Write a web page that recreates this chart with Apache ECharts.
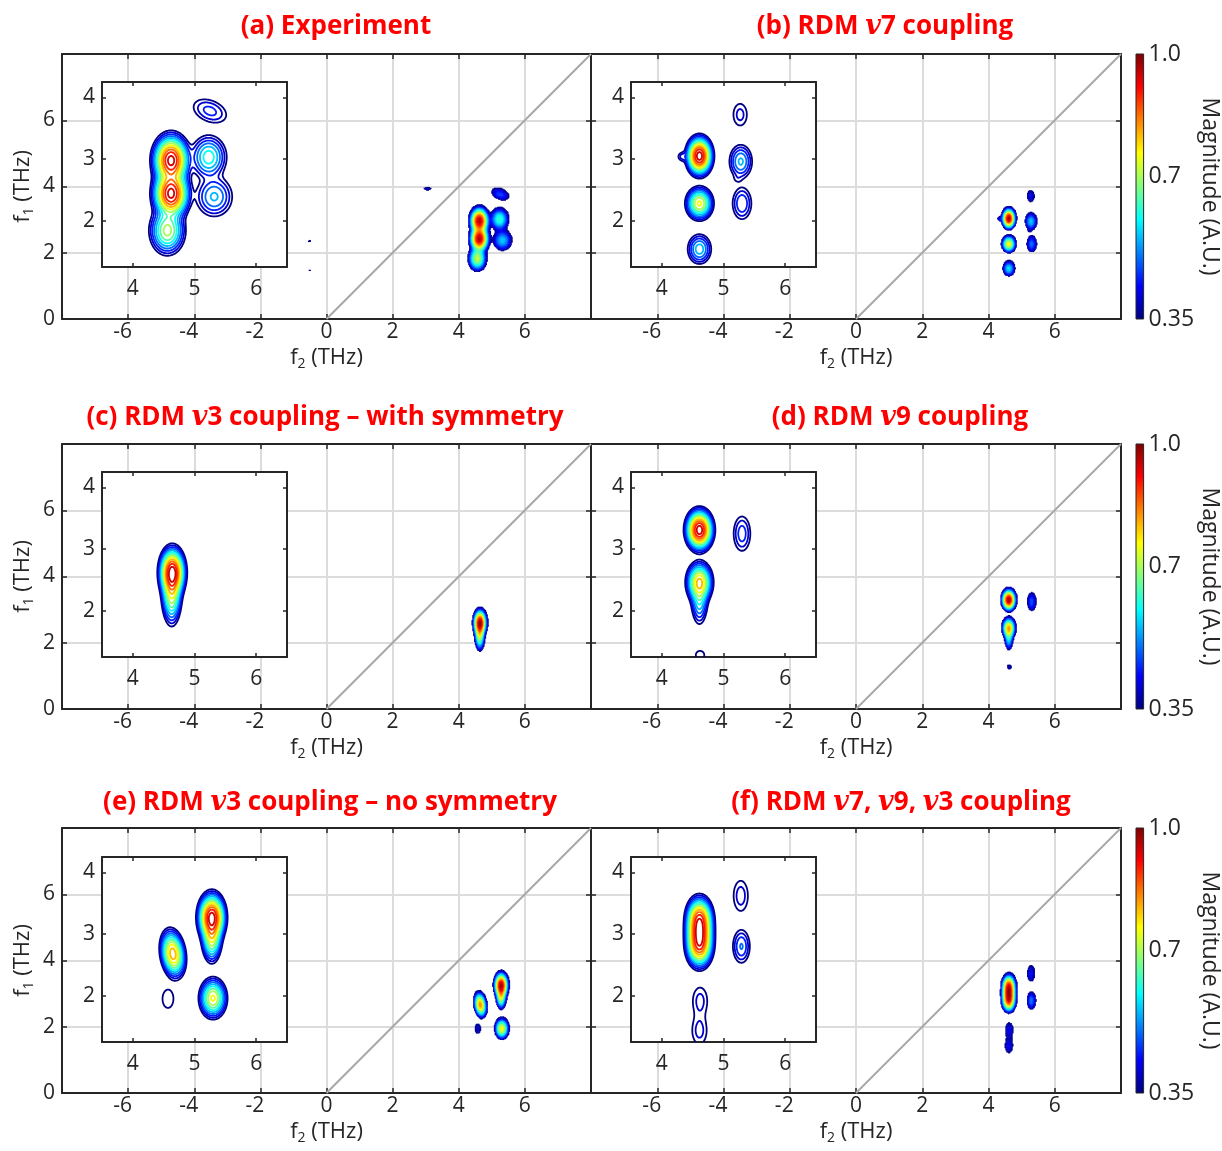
<!DOCTYPE html>
<html><head><meta charset="utf-8">
<script src="https://cdn.jsdelivr.net/npm/echarts@6/dist/echarts.min.js"></script>
<style>html,body{margin:0;padding:0;background:#fff;}#c{width:1222px;height:1151px;}</style>
</head><body><div id="c"></div>
<script>
// ================= DATA =================
const panelTitles = [
  '(a) Experiment',
  '(b) RDM {v|v}7 coupling',
  '(c) RDM {v|v}3 coupling \u2013 with symmetry',
  '(d) RDM {v|v}9 coupling',
  '(e) RDM {v|v}3 coupling \u2013 no symmetry',
  '(f) RDM {v|v}7, {v|v}9, {v|v}3 coupling'
];
const mainXTicks = [-6, -4, -2, 0, 2, 4, 6];
const mainYTicks = [0, 2, 4, 6];
const insetXTicks = [4, 5, 6];
const insetYTicks = [2, 3, 4];
const cbarTicks = [0.35, 0.7, 1.0];
const cbarTickLabels = ['0.35', '0.7', '1.0'];
const contourLevels = [0.35, 0.40, 0.45, 0.50, 0.55, 0.60, 0.65, 0.70, 0.75, 0.80, 0.85, 0.90, 0.95];
const diagonal = [[0, 0], [8, 8]];
// peaks: [f2 (THz), f1 (THz), magnitude, width along f2, width along f1, tilt (deg)]
const peaksA = [
  [4.62, 2.98, 0.97, 0.24, 0.34, 0],
  [4.62, 2.44, 0.97, 0.24, 0.34, 0],
  [4.56, 1.84, 0.72, 0.25, 0.34, 0],
  [5.23, 3.03, 0.63, 0.27, 0.33, 0],
  [5.32, 2.39, 0.56, 0.30, 0.33, 0],
  [5.25, 3.78, 0.47, 0.36, 0.22, -22],
  [3.05, 3.94, 0.40, 0.20, 0.08, 0],
  [-0.52, 2.36, 0.365, 0.12, 0.09, 0],
  [-0.52, 1.48, 0.36, 0.10, 0.08, 0]
];
const peaksB = [
  [4.61, 3.05, 0.98, 0.17, 0.255, 0],
  [4.33, 3.04, 0.42, 0.10, 0.10, 0],
  [4.61, 2.28, 0.76, 0.19, 0.23, 0],
  [4.61, 1.54, 0.58, 0.19, 0.24, 0],
  [5.27, 3.72, 0.42, 0.18, 0.29, 0],
  [5.28, 2.96, 0.56, 0.19, 0.28, 0],
  [5.22, 2.68, 0.32, 0.10, 0.10, 0],
  [5.30, 2.28, 0.50, 0.18, 0.30, 0]
];
const peaksC = [
  [4.64, 2.62, 0.97, 0.17, 0.33, 0],
  [4.63, 2.30, 0.75, 0.14, 0.45, 0]
];
const peaksD = [
  [4.61, 3.31, 0.98, 0.18, 0.27, 0],
  [4.61, 2.46, 0.80, 0.18, 0.28, 0],
  [4.61, 2.20, 0.60, 0.13, 0.40, 0],
  [5.30, 3.25, 0.48, 0.17, 0.35, 0],
  [4.62, 1.28, 0.38, 0.17, 0.17, 0]
];
const peaksE = [
  [5.28, 3.27, 0.97, 0.18, 0.32, 0],
  [5.28, 2.95, 0.75, 0.14, 0.35, 0],
  [4.65, 2.68, 0.83, 0.165, 0.33, 8],
  [5.30, 1.96, 0.76, 0.19, 0.28, 0],
  [4.57, 1.95, 0.395, 0.18, 0.30, 0]
];
const peaksF = [
  [4.61, 3.25, 0.88, 0.18, 0.30, 0],
  [4.61, 3.03, 0.88, 0.18, 0.30, 0],
  [4.61, 2.81, 0.88, 0.18, 0.30, 0],
  [5.28, 3.62, 0.43, 0.18, 0.38, 0],
  [5.29, 2.80, 0.505, 0.16, 0.31, 0],
  [4.62, 1.92, 0.42, 0.19, 0.35, 0],
  [4.61, 1.43, 0.42, 0.19, 0.35, 0]
];
const panelPeaks = [peaksA, peaksB, peaksC, peaksD, peaksE, peaksF];
const mainRange = {x: [-8, 8], y: [0, 8]};
const insetRange = {x: [3.5, 6.5], y: [1.25, 4.25]};
const cmin = 0.35, cmax = 1.0;

// ================= LAYOUT / STYLE =================
const LAY = {
  rowTop: [54, 444, 828], rowH: 265,
  colLeft: [62, 591], colW: [529, 530],
  insetDy: [28, 28, 29], insetDx: 40, insetSize: 185,
  cbLeft: 1136, cbW: 19,
  titlePos: [[336, 25], [885, 25], [325, 416], [900, 416], [330, 801], [901, 801]]
};
const AX = '#262626';
const FONT = 'Open Sans';

function clamp(v){ return Math.max(0, Math.min(1, v)); }
function jet(v){
  const t = clamp((v - cmin) / (cmax - cmin));
  const r = clamp(1.5 - Math.abs(4 * t - 3)), g = clamp(1.5 - Math.abs(4 * t - 2)), b = clamp(1.5 - Math.abs(4 * t - 1));
  return 'rgb(' + Math.round(r * 255) + ',' + Math.round(g * 255) + ',' + Math.round(b * 255) + ')';
}
function field(peaks, x, y){
  let s = 0;
  for (const p of peaks){
    let dx = x - p[0], dy = y - p[1];
    if (p[5]){
      const th = p[5] * Math.PI / 180, c = Math.cos(th), sn = Math.sin(th);
      const u = dx * c + dy * sn, w = -dx * sn + dy * c; dx = u; dy = w;
    }
    const e = 0.5 * (dx * dx / (p[3] * p[3]) + dy * dy / (p[4] * p[4]));
    if (e > 30) continue;
    const g = p[2] * Math.exp(-e);
    s += g * g * g * g;
  }
  return Math.pow(s, 0.25);
}
function buildGrid(peaks, R, h){
  const nx = Math.round((R.x[1] - R.x[0]) / h) + 1, ny = Math.round((R.y[1] - R.y[0]) / h) + 1;
  const V = new Float64Array(nx * ny);
  for (let j = 0; j < ny; j++) for (let i = 0; i < nx; i++) V[j * nx + i] = field(peaks, R.x[0] + i * h, R.y[0] + j * h);
  return {nx, ny, V, x0: R.x[0], y0: R.y[0], h};
}
function march(G, L){
  const {nx, ny, V, x0, y0, h} = G; const segs = [];
  for (let j = 0; j < ny - 1; j++) for (let i = 0; i < nx - 1; i++){
    const a = V[j * nx + i], b = V[j * nx + i + 1], c = V[(j + 1) * nx + i + 1], d = V[(j + 1) * nx + i];
    const idx = (a >= L ? 1 : 0) | (b >= L ? 2 : 0) | (c >= L ? 4 : 0) | (d >= L ? 8 : 0);
    if (idx === 0 || idx === 15) continue;
    const X = x0 + i * h, Y = y0 + j * h;
    const e0 = () => [X + h * (L - a) / (b - a), Y];
    const e1 = () => [X + h, Y + h * (L - b) / (c - b)];
    const e2 = () => [X + h * (L - d) / (c - d), Y + h];
    const e3 = () => [X, Y + h * (L - a) / (d - a)];
    const m = (a + b + c + d) / 4;
    switch (idx){
      case 1: case 14: segs.push([e3(), e0()]); break;
      case 2: case 13: segs.push([e0(), e1()]); break;
      case 3: case 12: segs.push([e3(), e1()]); break;
      case 4: case 11: segs.push([e1(), e2()]); break;
      case 6: case 9: segs.push([e0(), e2()]); break;
      case 7: case 8: segs.push([e3(), e2()]); break;
      case 5: if (m >= L){ segs.push([e3(), e2()]); segs.push([e0(), e1()]); } else { segs.push([e3(), e0()]); segs.push([e1(), e2()]); } break;
      case 10: if (m >= L){ segs.push([e3(), e0()]); segs.push([e1(), e2()]); } else { segs.push([e3(), e2()]); segs.push([e0(), e1()]); } break;
    }
  }
  return segs;
}

const HM = 0.025;
const xName = 'f{s|2} (THz)', yName = 'f{s|1} (THz)';
const nameStyle = {fontSize: 22, fontFamily: FONT, color: AX,
  rich: {s: {fontSize: 14, fontFamily: FONT, color: AX, padding: [12, 0, 0, 0]}}};
const labelStyle = {fontSize: 21, fontFamily: FONT, color: AX};
const negRich = {n: {fontSize: 21, fontFamily: FONT, color: AX, padding: [0, 11, 0, 0]}};
const mainXFormatter = v => (v < 0 ? '{n|' + v + '}' : String(v));

const grid = [], xAxis = [], yAxis = [], series = [], graphic = [];

panelPeaks.forEach((peaks, k) => {
  const row = Math.floor(k / 2), col = k % 2;
  const top = LAY.rowTop[row], left = LAY.colLeft[col], w = LAY.colW[col];
  // ---- main axes ----
  const gm = grid.length;
  grid.push({left: left, top: top, width: w, height: LAY.rowH, show: false});
  const xb = xAxis.length;
  xAxis.push({gridIndex: gm, type: 'value', position: 'bottom', min: mainRange.x[0], max: mainRange.x[1], interval: 2,
    axisLine: {show: true, onZero: false, lineStyle: {color: AX, width: 2}},
    axisTick: {show: true, inside: true, length: 5, lineStyle: {color: AX, width: 1.5}},
    axisLabel: Object.assign({margin: 3, customValues: mainXTicks, formatter: mainXFormatter, rich: negRich}, labelStyle),
    splitLine: {show: true, lineStyle: {color: '#dcdcdc', width: 2}},
    name: xName, nameLocation: 'middle', nameGap: 26, nameTextStyle: nameStyle, z: 0});
  xAxis.push({gridIndex: gm, type: 'value', position: 'top', min: mainRange.x[0], max: mainRange.x[1], interval: 2,
    axisLine: {show: true, onZero: false, lineStyle: {color: AX, width: 2}},
    axisTick: {show: true, inside: true, length: 5, lineStyle: {color: AX, width: 1.5}},
    axisLabel: {show: false}, splitLine: {show: false}, z: 0});
  const yl = yAxis.length;
  yAxis.push({gridIndex: gm, type: 'value', position: 'left', min: mainRange.y[0], max: mainRange.y[1], interval: 2,
    axisLine: {show: true, onZero: false, lineStyle: {color: AX, width: 2}},
    axisTick: {show: true, inside: true, length: 5, lineStyle: {color: AX, width: 1.5}},
    axisLabel: Object.assign({show: col === 0, margin: 7, customValues: mainYTicks}, labelStyle),
    splitLine: {show: true, lineStyle: {color: '#dcdcdc', width: 2}},
    name: col === 0 ? yName : '', nameLocation: 'middle', nameGap: 26, nameTextStyle: nameStyle, z: 0});
  yAxis.push({gridIndex: gm, type: 'value', position: 'right', min: mainRange.y[0], max: mainRange.y[1], interval: 2,
    axisLine: {show: true, onZero: false, lineStyle: {color: AX, width: 2}},
    axisTick: {show: true, inside: true, length: 5, lineStyle: {color: AX, width: 1.5}},
    axisLabel: {show: false}, splitLine: {show: false}, z: 0});

  // heat map of magnitude (main panel)
  const G = buildGrid(peaks, mainRange, HM);
  const cells = [];
  for (let j = 0; j < G.ny; j++) for (let i = 0; i < G.nx; i++){
    const v = G.V[j * G.nx + i];
    if (v >= cmin) cells.push([G.x0 + i * HM, G.y0 + j * HM, v]);
  }
  series.push({type: 'custom', xAxisIndex: xb, yAxisIndex: yl, data: cells, clip: true, silent: true, z: 2,
    renderItem: (params, api) => {
      const x = api.value(0), y = api.value(1), v = api.value(2);
      const p0 = api.coord([x - HM / 2, y + HM / 2]), p1 = api.coord([x + HM / 2, y - HM / 2]);
      return {type: 'rect', shape: {x: p0[0], y: p0[1], width: p1[0] - p0[0] + 0.5, height: p1[1] - p0[1] + 0.5},
        style: {fill: jet(v)}};
    }});
  series.push({type: 'line', xAxisIndex: xb, yAxisIndex: yl, data: diagonal, symbol: 'none', silent: true, z: 1,
    lineStyle: {color: '#a8a8a8', width: 2}});

  // ---- inset ----
  const gi = grid.length;
  const itop = top + LAY.insetDy[row], ileft = left + LAY.insetDx;
  grid.push({left: ileft, top: itop, width: LAY.insetSize, height: LAY.insetSize, show: true,
    backgroundColor: '#ffffff', borderWidth: 0, z: 3});
  const ixb = xAxis.length;
  xAxis.push({gridIndex: gi, type: 'value', position: 'bottom', min: insetRange.x[0], max: insetRange.x[1], interval: 0.5,
    axisLine: {show: true, onZero: false, lineStyle: {color: AX, width: 2}},
    axisTick: {show: true, inside: true, length: 4, customValues: insetXTicks, lineStyle: {color: AX, width: 1.5}},
    axisLabel: Object.assign({margin: 12, customValues: insetXTicks,
      formatter: v => (Math.abs(v - Math.round(v)) < 1e-6 ? String(Math.round(v)) : '')}, labelStyle),
    splitLine: {show: false}, z: 4});
  xAxis.push({gridIndex: gi, type: 'value', position: 'top', min: insetRange.x[0], max: insetRange.x[1], interval: 0.5,
    axisLine: {show: true, onZero: false, lineStyle: {color: AX, width: 2}},
    axisTick: {show: true, inside: true, length: 4, customValues: insetXTicks, lineStyle: {color: AX, width: 1.5}},
    axisLabel: {show: false}, splitLine: {show: false}, z: 4});
  const iyl = yAxis.length;
  yAxis.push({gridIndex: gi, type: 'value', position: 'left', min: insetRange.y[0], max: insetRange.y[1], interval: 0.25,
    axisLine: {show: true, onZero: false, lineStyle: {color: AX, width: 2}},
    axisTick: {show: true, inside: true, length: 4, customValues: insetYTicks, lineStyle: {color: AX, width: 1.5}},
    axisLabel: Object.assign({margin: 7, customValues: insetYTicks,
      formatter: v => (Math.abs(v - Math.round(v)) < 1e-6 ? String(Math.round(v)) : '')}, labelStyle),
    splitLine: {show: false}, z: 4});
  yAxis.push({gridIndex: gi, type: 'value', position: 'right', min: insetRange.y[0], max: insetRange.y[1], interval: 0.25,
    axisLine: {show: true, onZero: false, lineStyle: {color: AX, width: 2}},
    axisTick: {show: true, inside: true, length: 4, customValues: insetYTicks, lineStyle: {color: AX, width: 1.5}},
    axisLabel: {show: false}, splitLine: {show: false}, z: 4});

  const GI = buildGrid(peaks, insetRange, 0.0125);
  const segStore = contourLevels.map(L => march(GI, L));
  series.push({type: 'custom', xAxisIndex: ixb, yAxisIndex: iyl, clip: true, silent: true, z: 5,
    data: contourLevels.map((L, i) => [5, 2.75, L]),
    renderItem: (params, api) => {
      const segs = segStore[params.dataIndex];
      if (!segs.length) return null;
      let d = '';
      for (const s of segs){
        const p = api.coord(s[0]), q = api.coord(s[1]);
        d += 'M' + p[0].toFixed(2) + ' ' + p[1].toFixed(2) + 'L' + q[0].toFixed(2) + ' ' + q[1].toFixed(2);
      }
      return {type: 'path', shape: {pathData: d},
        style: {stroke: jet(api.value(2)), fill: 'none', lineWidth: 1.8, lineCap: 'round', lineJoin: 'round'}};
    }});

  // ---- title ----
  const tp = LAY.titlePos[k];
  graphic.push({type: 'text', x: tp[0], y: tp[1] + 2, silent: true, z: 10,
    style: {text: panelTitles[k], fontSize: 26, fontFamily: FONT, fontWeight: 'bold', fill: '#ff0000',
      align: 'center', verticalAlign: 'middle',
      rich: {v: {fontSize: 27, fontFamily: 'DejaVu Serif', fontStyle: 'italic', fontWeight: 'bold', fill: '#ff0000'}}}});
});

// ---- colour bars ----
const cbStops = [];
for (let i = 0; i <= 64; i++) cbStops.push({offset: i / 64, color: jet(cmax - (cmax - cmin) * i / 64)});
LAY.rowTop.forEach((top, r) => {
  const g = grid.length;
  grid.push({left: LAY.cbLeft, top: top, width: LAY.cbW, height: LAY.rowH, show: false});
  const xa = xAxis.length;
  xAxis.push({gridIndex: g, type: 'value', min: 0, max: 1, show: false});
  const ya = yAxis.length;
  yAxis.push({gridIndex: g, type: 'value', position: 'right', min: cmin, max: cmax, interval: 0.05,
    axisLine: {show: false}, axisTick: {show: false}, splitLine: {show: false},
    axisLabel: {fontSize: 23, fontFamily: FONT, color: AX, margin: 5, customValues: cbarTicks,
      formatter: v => { for (let i = 0; i < cbarTicks.length; i++) if (Math.abs(v - cbarTicks[i]) < 1e-6) return cbarTickLabels[i]; return ''; }},
    name: 'Magnitude (A.U.)', nameLocation: 'middle', nameRotate: -90, nameGap: 40,
    nameTextStyle: {fontSize: 23, fontFamily: FONT, color: AX}});
  series.push({type: 'custom', xAxisIndex: xa, yAxisIndex: ya, silent: true, data: [[0.5, (cmin + cmax) / 2]],
    renderItem: (params, api) => {
      const p0 = api.coord([0, cmax]), p1 = api.coord([1, cmin]);
      return {type: 'rect', shape: {x: p0[0], y: p0[1], width: p1[0] - p0[0], height: p1[1] - p0[1]},
        style: {fill: {type: 'linear', x: 0, y: 0, x2: 0, y2: 1, colorStops: cbStops}, stroke: AX, lineWidth: 1}};
    }});
});

const chart = echarts.init(document.getElementById('c'), null, {renderer: 'canvas', width: 1222, height: 1151});
chart.setOption({animation: false, backgroundColor: '#ffffff', textStyle: {fontFamily: FONT},
  grid, xAxis, yAxis, series, graphic});
</script></body></html>
